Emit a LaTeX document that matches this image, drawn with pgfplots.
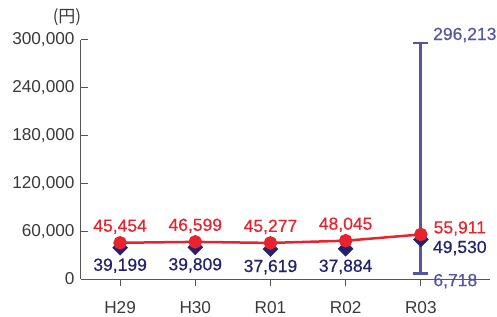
\documentclass[border=0pt]{standalone}
\usepackage{pgfplots}
\pgfplotsset{compat=1.18}
\usepackage{pgfplotstable}
\usepackage{fontspec}
\setmainfont{Liberation Sans}
\newfontfamily\lblfont[FakeBold=0.5]{Liberation Sans}
\newfontfamily\cjk{Noto Sans CJK JP}
\definecolor{cred}{HTML}{E8232D}
\definecolor{cnavy}{HTML}{22226E}
\definecolor{cbar}{HTML}{5555A6}
\definecolor{ctext}{HTML}{3A3A3A}
\definecolor{caxis}{HTML}{555555}
\pgfplotstableread{
x y dx dy
0 45454 0 16
1 46599 0 16
2 45277 0 16
3 48045 0 16
4 55911 39 6
}\avgtab
\pgfplotstableread{
x y dx dy
0 39199 0 -18
1 39809 0 -18
2 37619 0 -18
3 37884 0 -18
4 49530 39 -8.5
}\medtab
\pgfplotstableread{
x y dx dy
4 296213 44 8
4 6718 34.5 -7.5
}\rngtab
\pgfplotsset{lbl/.style={point meta=y, nodes near coords,
  visualization depends on={\thisrow{dx} \as \dx},
  visualization depends on={\thisrow{dy} \as \dy},
  nodes near coords style={font=\fontsize{17.5bp}{20bp}\lblfont, text=#1, anchor=center, xshift=\dx bp, yshift=\dy bp}}}
\begin{document}
\begin{tikzpicture}
\begin{axis}[
  at={(0,0)}, anchor=south west,
  scale only axis, width=409bp, height=239bp,
  xmin=-0.52, xmax=4.92, ymin=0, ymax=300000,
  clip=false,
  axis x line=bottom, axis y line=left,
  axis line style={caxis, line width=1bp, -},
  xtick={0,1,2,3,4}, xticklabels={H29,H30,R01,R02,R03},
  ytick={0,60000,120000,180000,240000,300000},
  scaled y ticks=false,
  xtick align=outside, ytick align=inside,
  major tick length=7bp,
  tick style={caxis, line width=1bp},
  /pgf/number format/assume math mode=true,
  /pgf/number format/1000 sep={,},
  /pgf/number format/fixed, /pgf/number format/precision=0,
  yticklabel style={font=\fontsize{17.2bp}{19bp}\selectfont, text=ctext, xshift=-3bp},
  xticklabel style={font=\fontsize{17.2bp}{19bp}\selectfont, text=ctext, yshift=-12bp},
]
\addplot[cbar, line width=3bp, mark=-, mark size=7.5bp, mark options={line width=2.5bp}, forget plot]
  coordinates {(4,6718) (4,296213)};
\addplot[draw=none, mark=none, forget plot, lbl=cbar]
  table[x=x, y=y] {\rngtab};
\addplot[only marks, mark=diamond*, mark size=7.5bp, mark options={xscale=1.33, fill=cnavy, draw=cnavy}, forget plot, lbl=cnavy]
  table[x=x, y=y] {\medtab};
\addplot[cred, line width=2.5bp, mark=*, mark size=5.5bp, mark options={fill=cred, draw=cred}, forget plot, lbl=cred]
  table[x=x, y=y] {\avgtab};
\node[font=\fontsize{17bp}{19bp}\selectfont\cjk, text=ctext, anchor=center] at (rel axis cs:0,1) [xshift=-14bp, yshift=23bp] {(円)};
\end{axis}
\pgfresetboundingbox
\path[use as bounding box] (-81bp,-38bp) rectangle (416bp,279bp);
\end{tikzpicture}
\end{document}
